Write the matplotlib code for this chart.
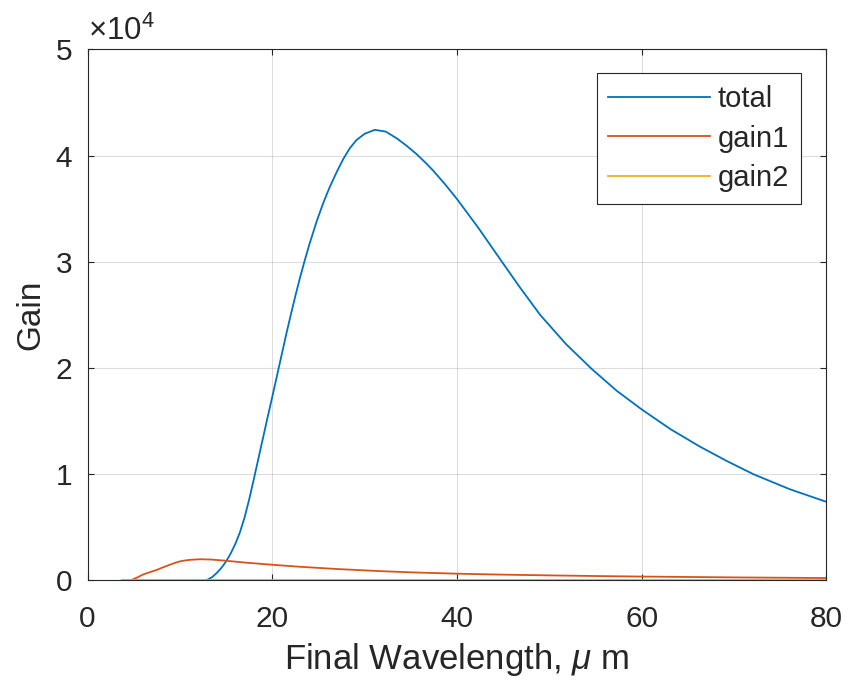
import matplotlib
matplotlib.use("Agg")
import matplotlib.pyplot as plt
from matplotlib.ticker import FuncFormatter

plt.rcParams['font.family'] = ['Liberation Sans', 'DejaVu Sans']
plt.rcParams['mathtext.fontset'] = 'custom'
plt.rcParams['mathtext.rm'] = 'Liberation Sans'
plt.rcParams['mathtext.it'] = 'Liberation Sans:italic'

# values
total_x = [3.75, 12.0, 12.5, 13.0, 13.5, 14.0, 14.5, 15.0, 15.5, 16.0, 16.5, 17.0,
           17.5, 18.0, 18.5, 19.0, 19.5, 20.0, 20.5, 21.0, 21.5, 22.0, 22.5, 23.0,
           23.5, 24.0, 24.8, 25.5, 26.2, 27.0, 27.7, 28.4, 29.1, 30.0, 31.1, 32.3,
           33.5, 34.5, 35.6, 36.5, 37.4, 38.7, 40.0, 42.3, 44.7, 46.8, 49.0, 51.8,
           54.6, 57.3, 60.0, 63.1, 66.3, 69.2, 72.1, 76.0, 80.0]
total_y = [0, 0, 0, 80, 330, 720, 1200, 1800, 2550, 3450, 4550, 5950,
           7650, 9550, 11500, 13450, 15400, 17300, 19250, 21200, 23150, 25000, 26800, 28500,
           30100, 31600, 33800, 35500, 37000, 38500, 39700, 40700, 41450, 42050, 42420, 42250,
           41600, 40950, 40150, 39400, 38600, 37300, 35900, 33200, 30200, 27600, 25000, 22250,
           19900, 17850, 16100, 14250, 12600, 11250, 10000, 8600, 7400]

gain1_x = [3.75, 4.6, 5.3, 6.0, 6.8, 7.5, 8.2, 8.8, 9.4, 10.0, 10.6, 11.1, 12.2,
           13.4, 14.7, 17.0, 20.0, 23.0, 27.0, 31.7, 34.9, 40.0, 45.0, 50.0, 55.0,
           60.0, 70.0, 80.0]
gain1_y = [0, 0, 250, 560, 800, 1000, 1250, 1450, 1640, 1800, 1890, 1945, 2000,
           1970, 1880, 1690, 1480, 1290, 1080, 880, 770, 640, 550, 480, 420,
           370, 290, 230]

gain2_x = [3.75, 80.0]
gain2_y = [0, 0]

labels = ['total', 'gain1', 'gain2']
colors = ['#0072BD', '#D95319', '#EDB120']
ink = '#262626'

fig = plt.figure(figsize=(8.48, 6.81), dpi=100)
ax = fig.add_axes([0.1033, 0.1476, 0.8713, 0.7800])

ax.plot(total_x, total_y, color=colors[0], lw=1.3, label=labels[0])
ax.plot(gain1_x, gain1_y, color=colors[1], lw=1.3, label=labels[1])
ax.plot(gain2_x, gain2_y, color=colors[2], lw=1.3, label=labels[2])

ax.set_xlim(0, 80)
ax.set_ylim(0, 50000)
ax.set_xticks([0, 20, 40, 60, 80])
ax.set_yticks([0, 10000, 20000, 30000, 40000, 50000])
ax.yaxis.set_major_formatter(FuncFormatter(lambda v, p: '%d' % round(v / 1e4)))

ax.grid(True, color=ink, alpha=0.15, lw=0.8)
ax.set_axisbelow(True)
for s in ax.spines.values():
    s.set_color(ink)
    s.set_linewidth(0.8)
ax.tick_params(direction='in', length=4, width=0.8, color=ink,
               top=True, right=True, labelsize=21.5, labelcolor=ink)
ax.tick_params(axis='x', pad=17.5)
ax.tick_params(axis='y', pad=11)

ax.set_xlabel(r'Final Wavelength, $\mu$ m', fontsize=25, color=ink, labelpad=6)
ax.set_ylabel('Gain', fontsize=24, color=ink, labelpad=7)
ax.text(0.0, 1.0175, r'$\times10^{4}$', transform=ax.transAxes, fontsize=22.5,
        color=ink, ha='left', va='baseline')

leg = ax.legend(loc='upper right', bbox_to_anchor=(0.9651, 0.9548), borderaxespad=0,
                fontsize=21, handlelength=3.5, handletextpad=0.25, fancybox=False,
                framealpha=1, edgecolor=ink, labelspacing=0.4, borderpad=0.4)
leg.get_frame().set_linewidth(0.8)
for t in leg.get_texts():
    t.set_color(ink)

fig.savefig('out.png', dpi=100)
